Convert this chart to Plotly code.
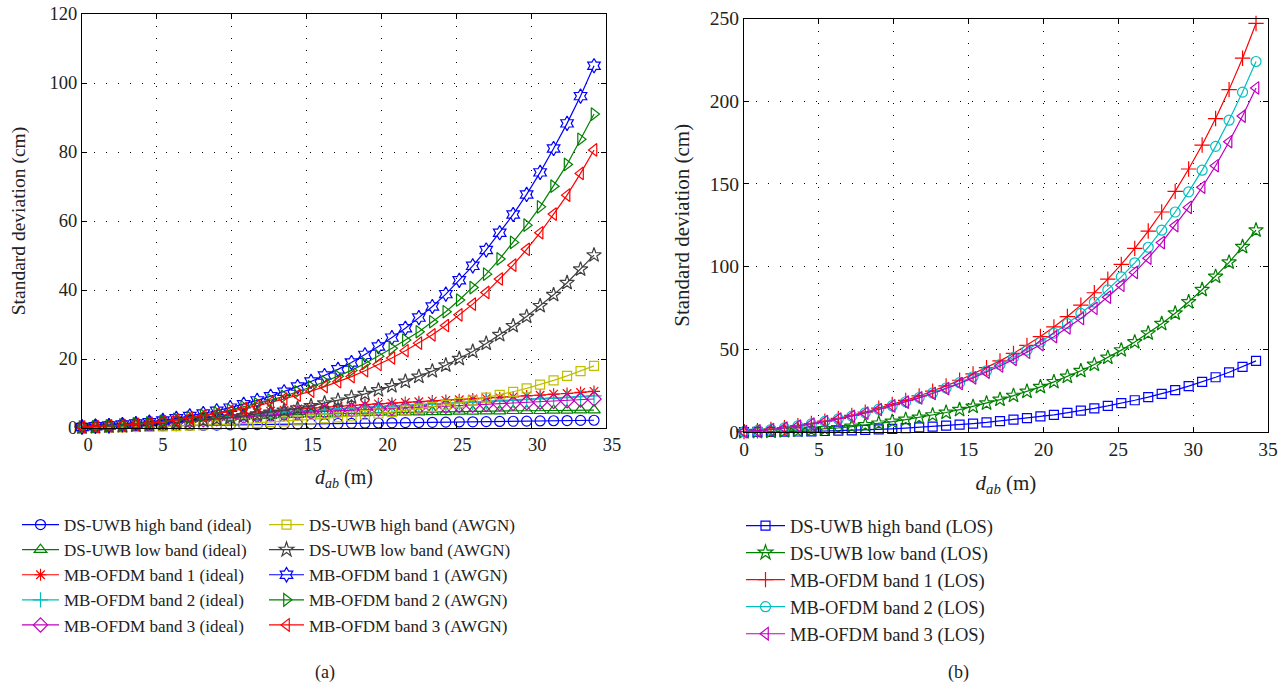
import plotly.graph_objects as go

W, H = 1288, 692
FONT = "Liberation Serif, Times New Roman, serif"

# distance grid (m), shared by both panels
dist_m = [0.0, 0.9, 1.8, 2.7, 3.6, 4.5, 5.4, 6.3, 7.2, 8.1, 9.0, 9.9, 10.8, 11.7,
          12.6, 13.5, 14.4, 15.3, 16.2, 17.1, 18.0, 18.9, 19.8, 20.7, 21.6, 22.5,
          23.4, 24.3, 25.2, 26.1, 27.0, 27.9, 28.8, 29.7, 30.6, 31.5, 32.4, 33.3, 34.2]

# ---- panel (a): standard deviation (cm) ----
a_ds_high_ideal = [0.3, 0.4, 0.45, 0.5, 0.55, 0.6, 0.65, 0.7, 0.75, 0.8, 0.85, 0.9, 0.95,
                   1.0, 1.05, 1.1, 1.15, 1.2, 1.25, 1.3, 1.35, 1.4, 1.45, 1.5, 1.55, 1.6,
                   1.65, 1.7, 1.75, 1.8, 1.85, 1.9, 1.95, 2.0, 2.05, 2.1, 2.15, 2.2, 2.25]
a_ds_low_ideal = [0.3, 0.5, 0.7, 1.0, 1.2, 1.5, 1.8, 2.1, 2.4, 2.7, 2.9, 3.1, 3.3, 3.5,
                  3.6, 3.8, 3.9, 4.0, 4.1, 4.2, 4.3, 4.4, 4.5, 4.5, 4.6, 4.6, 4.7, 4.7,
                  4.8, 4.8, 4.9, 4.9, 5.0, 5.0, 5.0, 5.1, 5.1, 5.2, 5.2]
a_mb1_ideal = [0.4, 0.6, 0.8, 1.0, 1.3, 1.6, 1.9, 2.2, 2.6, 3.0, 3.4, 3.8, 4.2, 4.5,
               4.9, 5.2, 5.5, 5.8, 6.1, 6.3, 6.6, 6.8, 7.0, 7.2, 7.4, 7.6, 7.8, 8.0,
               8.2, 8.4, 8.6, 8.8, 9.0, 9.3, 9.5, 9.8, 10.0, 10.3, 10.6]
a_mb2_ideal = [0.4, 0.5, 0.7, 0.9, 1.1, 1.4, 1.7, 2.0, 2.3, 2.7, 3.0, 3.4, 3.7, 4.0,
               4.3, 4.6, 4.9, 5.1, 5.4, 5.6, 5.8, 6.0, 6.2, 6.4, 6.6, 6.7, 6.9, 7.1,
               7.3, 7.4, 7.6, 7.8, 8.0, 8.2, 8.4, 8.6, 8.8, 9.1, 9.3]
a_mb3_ideal = [0.3, 0.5, 0.6, 0.8, 1.0, 1.3, 1.5, 1.7, 2.1, 2.4, 2.7, 3.0, 3.3, 3.6,
               3.9, 4.1, 4.3, 4.6, 4.8, 5.0, 5.2, 5.4, 5.5, 5.7, 5.8, 6.0, 6.2, 6.3,
               6.5, 6.6, 6.8, 7.0, 7.1, 7.3, 7.5, 7.7, 7.9, 8.1, 8.4]
a_ds_high_awgn = [0.1, 0.1, 0.15, 0.2, 0.3, 0.35, 0.45, 0.55, 0.7, 0.8, 0.95, 1.1, 1.3,
                  1.5, 1.7, 1.9, 2.2, 2.5, 2.8, 3.1, 3.4, 3.8, 4.2, 4.6, 5.1, 5.6, 6.1,
                  6.7, 7.3, 8.0, 8.8, 9.6, 10.5, 11.5, 12.6, 13.8, 15.1, 16.5, 18.0]
a_ds_low_awgn = [0.2, 0.3, 0.5, 0.6, 0.8, 1.0, 1.3, 1.6, 1.9, 2.2, 2.6, 3.0, 3.5, 4.0,
                 4.5, 5.1, 5.7, 6.4, 7.2, 8.0, 8.9, 9.9, 11.0, 12.2, 13.5, 14.9, 16.5,
                 18.2, 20.1, 22.2, 24.5, 27.0, 29.6, 32.3, 35.4, 38.6, 42.1, 46.0, 50.1]
a_mb1_awgn = [0.3, 0.5, 0.7, 1.0, 1.3, 1.7, 2.2, 2.8, 3.5, 4.2, 5.0, 5.9, 6.9, 8.0,
              9.2, 10.5, 12.0, 13.5, 15.2, 17.0, 19.0, 21.2, 23.6, 26.2, 28.9, 32.0,
              35.2, 38.8, 42.8, 47.0, 51.6, 56.6, 61.9, 67.7, 74.1, 81.0, 88.3, 96.2, 105.0]
a_mb2_awgn = [0.3, 0.4, 0.6, 0.9, 1.2, 1.5, 1.9, 2.5, 3.1, 3.7, 4.4, 5.2, 6.1, 7.0,
              8.1, 9.2, 10.5, 11.9, 13.4, 15.0, 16.7, 18.7, 20.8, 23.1, 25.5, 27.9,
              30.8, 33.7, 37.1, 40.7, 44.6, 49.0, 53.8, 58.8, 64.1, 70.1, 76.4, 83.7, 91.0]
a_mb3_awgn = [0.3, 0.4, 0.6, 0.8, 1.1, 1.4, 1.8, 2.3, 2.9, 3.5, 4.1, 4.8, 5.6, 6.4,
              7.4, 8.4, 9.5, 10.7, 12.0, 13.4, 14.9, 16.6, 18.4, 20.3, 22.4, 24.6,
              27.0, 29.7, 32.8, 35.9, 39.3, 43.2, 47.2, 51.8, 56.6, 62.0, 67.5, 73.8, 80.6]

# ---- panel (b): standard deviation (cm), LOS ----
b_ds_high_los = [0.0, 0.05, 0.1, 0.2, 0.3, 0.4, 0.6, 0.8, 1.0, 1.3, 1.6, 1.9, 2.3, 2.8,
                 3.3, 3.8, 4.4, 5.1, 5.8, 6.6, 7.5, 8.4, 9.4, 10.4, 11.6, 12.9, 14.3,
                 15.8, 17.4, 19.2, 21.1, 23.1, 25.3, 27.7, 30.3, 33.1, 36.1, 39.4, 43.0]
b_ds_low_los = [0.0, 0.1, 0.3, 0.6, 0.9, 1.3, 1.8, 2.5, 3.3, 4.2, 5.2, 6.3, 7.5, 8.8,
                10.2, 11.8, 13.5, 15.4, 17.4, 19.6, 22.0, 24.5, 27.3, 30.3, 33.5, 37.0,
                40.8, 45.0, 49.5, 54.4, 59.7, 65.5, 71.8, 78.6, 86.0, 94.0, 102.6, 112.0, 122.0]
b_mb1_los = [0.2, 0.8, 1.6, 2.6, 3.8, 5.1, 6.6, 8.2, 10.0, 12.0, 14.4, 16.6, 19.1, 21.8,
             24.7, 27.9, 31.3, 35.1, 38.9, 43.0, 47.5, 52.4, 57.7, 63.5, 69.8, 76.7, 84.2,
             92.4, 101.3, 111.0, 121.5, 133.0, 145.5, 159.0, 173.5, 189.5, 207.0, 226.0, 247.0]
b_mb2_los = [0.2, 0.8, 1.5, 2.5, 3.7, 4.9, 6.4, 7.9, 9.6, 11.6, 13.8, 15.9, 18.3, 20.8,
             23.6, 26.6, 29.8, 33.4, 37.0, 40.8, 45.0, 49.5, 54.4, 59.7, 65.5, 71.7, 78.5,
             85.9, 93.8, 102.3, 111.7, 122.0, 133.0, 145.2, 158.3, 172.7, 188.5, 205.5, 224.0]
b_mb3_los = [0.2, 0.7, 1.5, 2.4, 3.6, 4.8, 6.3, 7.8, 9.5, 11.4, 13.6, 15.8, 18.1, 20.6,
             23.3, 26.2, 29.3, 32.7, 36.2, 39.9, 43.9, 48.2, 52.8, 57.6, 62.9, 68.6, 74.8,
             81.5, 88.7, 96.5, 105.1, 114.5, 124.8, 135.8, 148.0, 161.0, 175.5, 191.0, 208.0]

BLUE, GREEN, RED = "#0000ff", "#008000", "#ff0000"
CYAN, MAG, YEL, GRAY = "#00bfbf", "#bf00bf", "#bfbf00", "#404040"

panel_a = [
    ("DS-UWB high band (ideal)", a_ds_high_ideal, BLUE, "circle-open", 10, "legend"),
    ("DS-UWB low band (ideal)", a_ds_low_ideal, GREEN, "triangle-up-open", 11, "legend"),
    ("MB-OFDM band 1 (ideal)", a_mb1_ideal, RED, "asterisk-open", 10, "legend"),
    ("MB-OFDM band 2 (ideal)", a_mb2_ideal, CYAN, "cross-thin-open", 11, "legend"),
    ("MB-OFDM band 3 (ideal)", a_mb3_ideal, MAG, "diamond-open", 11, "legend"),
    ("DS-UWB high band (AWGN)", a_ds_high_awgn, YEL, "square-open", 9, "legend2"),
    ("DS-UWB low band (AWGN)", a_ds_low_awgn, GRAY, "star-open", 11, "legend2"),
    ("MB-OFDM band 1 (AWGN)", a_mb1_awgn, BLUE, "hexagram-open", 11, "legend2"),
    ("MB-OFDM band 2 (AWGN)", a_mb2_awgn, GREEN, "triangle-right-open", 11, "legend2"),
    ("MB-OFDM band 3 (AWGN)", a_mb3_awgn, RED, "triangle-left-open", 11, "legend2"),
]
panel_b = [
    ("DS-UWB high band (LOS)", b_ds_high_los, BLUE, "square-open", 9),
    ("DS-UWB low band (LOS)", b_ds_low_los, GREEN, "star-open", 11),
    ("MB-OFDM band 1 (LOS)", b_mb1_los, RED, "cross-thin-open", 11),
    ("MB-OFDM band 2 (LOS)", b_mb2_los, CYAN, "circle-open", 10),
    ("MB-OFDM band 3 (LOS)", b_mb3_los, MAG, "triangle-left-open", 11),
]

fig = go.Figure()
for i, (name, vals, col, sym, sz, leg) in enumerate(panel_a):
    fig.add_trace(go.Scatter(
        x=dist_m, y=vals, name=name, mode="lines+markers", xaxis="x", yaxis="y",
        line=dict(color=col, width=1.2),
        marker=dict(symbol=sym, size=sz, color=col, line=dict(color=col, width=1.2)),
        legend=leg, legendgroup=f"a{i}", cliponaxis=False))
for i, (name, vals, col, sym, sz) in enumerate(panel_b):
    fig.add_trace(go.Scatter(
        x=dist_m, y=vals, name=name, mode="lines+markers", xaxis="x2", yaxis="y2",
        line=dict(color=col, width=1.2),
        marker=dict(symbol=sym, size=sz, color=col, line=dict(color=col, width=1.2)),
        legend="legend3", legendgroup=f"b{i}", cliponaxis=False))


def px(x):
    return x / W


def py(y):
    return 1 - y / H


def axis_common(size):
    return dict(
        showline=True, linecolor="#000", linewidth=1, mirror="ticks",
        ticks="inside", ticklen=5, tickcolor="#000", tickwidth=1,
        showgrid=True, gridcolor="#000", gridwidth=1, griddash="1px,11px",
        zeroline=False, automargin=False,
        tickfont=dict(family=FONT, size=size, color="#222"),
    )


xtitle = "<i>d<sub>ab</sub></i> (m)"
ytitle = "Standard deviation (cm)"

fig.update_layout(
    width=W, height=H, margin=dict(l=0, r=0, t=0, b=0, autoexpand=False),
    paper_bgcolor="white", plot_bgcolor="white",
    font=dict(family=FONT, color="#222"),
    xaxis=dict(domain=[px(82), px(606)], range=[0, 35], tickvals=[0, 5, 10, 15, 20, 25, 30, 35],
               anchor="y", ticklabelshift=6,
               title=dict(text=xtitle, font=dict(family=FONT, size=20), standoff=15),
               **axis_common(18.5)),
    yaxis=dict(domain=[py(428), py(14)], range=[0, 120], tickvals=[0, 20, 40, 60, 80, 100, 120],
               anchor="x",
               title=dict(text=ytitle, font=dict(family=FONT, size=19.5), standoff=18),
               **axis_common(18.5)),
    xaxis2=dict(domain=[px(744), px(1268)], range=[0, 35], tickvals=[0, 5, 10, 15, 20, 25, 30, 35],
                anchor="y2",
                title=dict(text=xtitle, font=dict(family=FONT, size=21), standoff=15),
                **axis_common(19.5)),
    yaxis2=dict(domain=[py(432), py(18.5)], range=[0, 250], tickvals=[0, 50, 100, 150, 200, 250],
                anchor="x2",
                title=dict(text=ytitle, font=dict(family=FONT, size=21), standoff=14),
                **axis_common(19.5)),
    legend=dict(x=px(17), y=py(507), xanchor="left", yanchor="top", itemwidth=37,
                tracegroupgap=0, bgcolor="rgba(0,0,0,0)",
                font=dict(family=FONT, size=17, color="#222")),
    legend2=dict(x=px(264), y=py(507), xanchor="left", yanchor="top", itemwidth=35,
                 tracegroupgap=0, bgcolor="rgba(0,0,0,0)",
                 font=dict(family=FONT, size=17, color="#222")),
    legend3=dict(x=px(741), y=py(507), xanchor="left", yanchor="top", itemwidth=39,
                 tracegroupgap=0, bgcolor="rgba(0,0,0,0)",
                 font=dict(family=FONT, size=18.5, color="#222")),
    annotations=[
        dict(text="(a)", x=px(313), y=py(672), xref="paper", yref="paper", showarrow=False,
             yanchor="middle", font=dict(family=FONT, size=18, color="#222")),
        dict(text="(b)", x=px(971), y=py(672), xref="paper", yref="paper", showarrow=False,
             yanchor="middle", font=dict(family=FONT, size=18, color="#222")),
    ],
)

fig.write_html("out.html")
